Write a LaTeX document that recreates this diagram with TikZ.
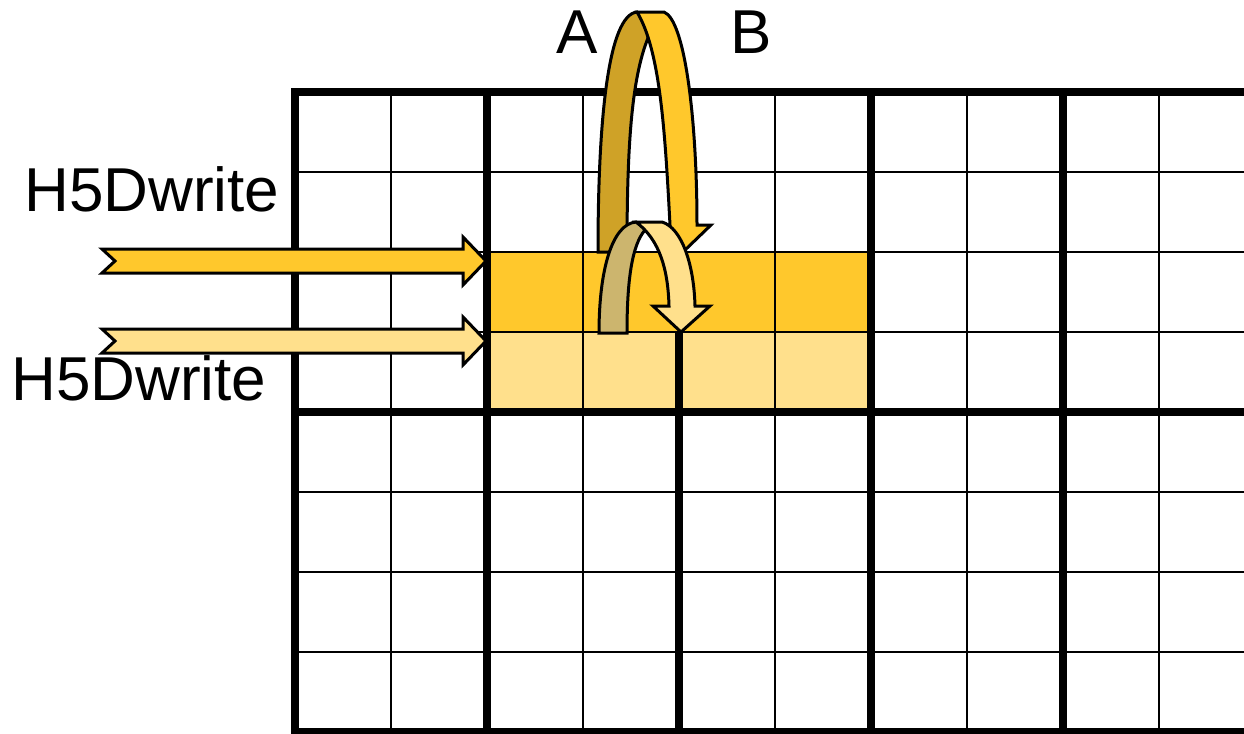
\documentclass[tikz,border=0pt]{standalone}
\usepackage{fontspec}
\setmainfont{Liberation Sans}
\definecolor{gold}{RGB}{255,200,44}
\definecolor{lightgold}{RGB}{255,224,140}
\definecolor{darkgold}{RGB}{207,162,39}
\definecolor{tan}{RGB}{204,181,110}
\tikzset{
  thinline/.style={line width=1.1pt},
  thickline/.style={line width=4pt},
  arrowshape/.style={line width=1.5pt, line join=miter},
  lbl/.style={inner sep=0pt, anchor=base west, font=\fontsize{31}{36}\selectfont}
}
\begin{document}
\begin{tikzpicture}[x=0.5pt,y=-0.5pt]
\useasboundingbox (0,0) rectangle (1244,734);
% filled rows
\fill[gold] (487,252) rectangle (871,332);
\fill[lightgold] (487,332) rectangle (871,412);
% thin grid lines
\foreach \y in {172,252,332,492,572,652} \draw[thinline] (295,\y) -- (1244,\y);
\foreach \x in {391,583,775,967,1159} \draw[thinline] (\x,92) -- (\x,732);
% thick grid lines
\foreach \y in {92,412,732} \draw[thickline] (291,\y) -- (1244,\y);
\foreach \x in {295,487,871,1063} \draw[thickline] (\x,90) -- (\x,734);
\draw[thickline] (679,332) -- (679,734);
% horizontal notched arrows
\draw[arrowshape, fill=gold] (102,249) -- (463,249) -- (463,237) -- (486,261) -- (463,285) -- (463,273) -- (102,273) -- (115,261) -- cycle;
\draw[arrowshape, fill=lightgold] (102,329) -- (463,329) -- (463,317) -- (486,341) -- (463,365) -- (463,353) -- (102,353) -- (115,341) -- cycle;
% big U-turn arrow: back face
\draw[arrowshape, fill=darkgold] (598,252) .. controls (598,120) and (608,15) .. (637,12)
  .. controls (643,16) and (646,26) .. (648,38)
  .. controls (631,80) and (627,150) .. (627,252) -- cycle;
% big U-turn arrow: front face
\draw[arrowshape, fill=gold] (637,12) -- (664,12) .. controls (685,20) and (697,120) .. (697,225)
  -- (711,225) -- (684,251) -- (655,225) -- (670,225)
  .. controls (665,130) and (660,50) .. (637,12) -- cycle;
% small U-turn arrow: back face
\draw[arrowshape, fill=tan] (599,333) .. controls (599,270) and (612,224) .. (636,222)
  .. controls (640,224) and (643,226) .. (645,230)
  .. controls (632,245) and (627,280) .. (627,333) -- cycle;
% small U-turn arrow: front face
\draw[arrowshape, fill=lightgold] (636,222) -- (662,222) .. controls (682,228) and (694,265) .. (695,306)
  -- (710,306) -- (681,332) -- (653,306) -- (669,306)
  .. controls (668,270) and (660,240) .. (636,222) -- cycle;
% labels
\node[lbl] (w1) at (24,211) {H5Dwrite};
\node[lbl] (w2) at (11,400) {H5Dwrite};
\node[lbl] (a) at (556,53) {A};
\node[lbl] (b) at (730,53) {B};
\end{tikzpicture}
\end{document}
